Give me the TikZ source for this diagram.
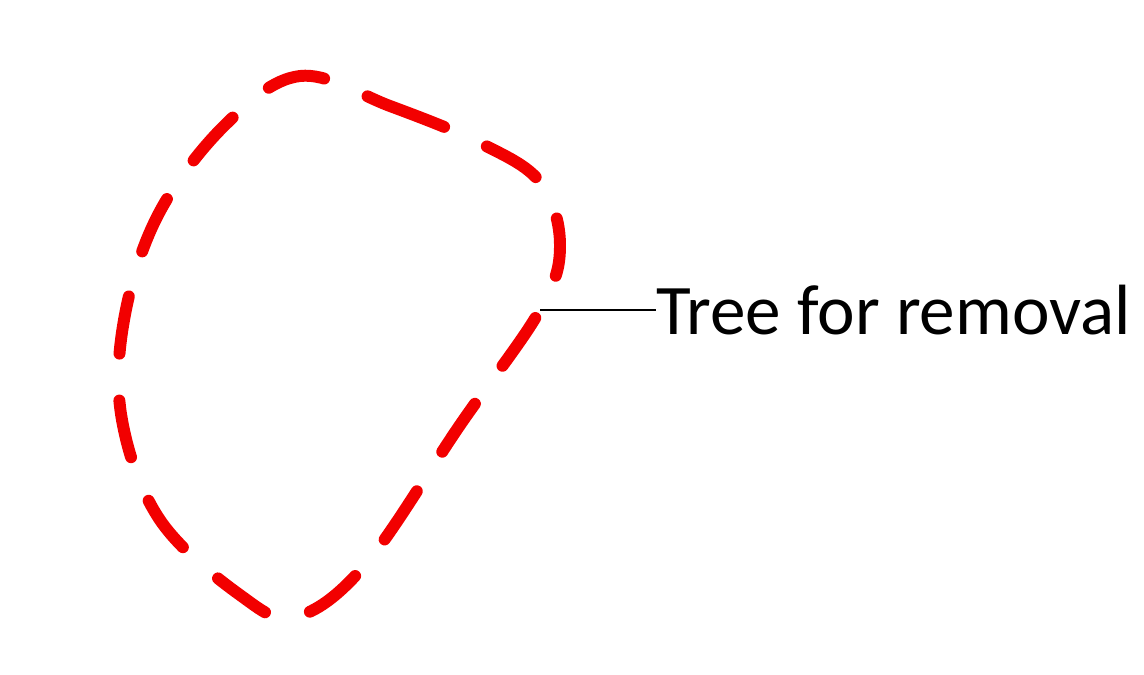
\documentclass[tikz,border=0pt]{standalone}
\usepackage{fontspec}
\setmainfont{Carlito}

\begin{document}
\begin{tikzpicture}[x=0.02cm,y=-0.02cm]
  \useasboundingbox (0,0) rectangle (1144,674);
  \draw[red!95!black,line width=6.8pt,line cap=round,dash pattern=on 1.16cm off 0.94cm]
    plot[smooth cycle,tension=0.6] coordinates {(300,76) (390,106) (480,143) (540,182) (560,245) (540,310) (460,425) (365,565) (295,617) (240,595) (160,520) (122,420) (124,320) (158,215) (225,125)};
  \coordinate (tip) at (540,310);
  \node[anchor=west,inner sep=0pt,font=\fontsize{40.5}{42}\selectfont] (lbl) at (656,310) {Tree for removal};
  \draw[line width=1.2pt] (tip) -- (lbl.west);
\end{tikzpicture}
\end{document}
